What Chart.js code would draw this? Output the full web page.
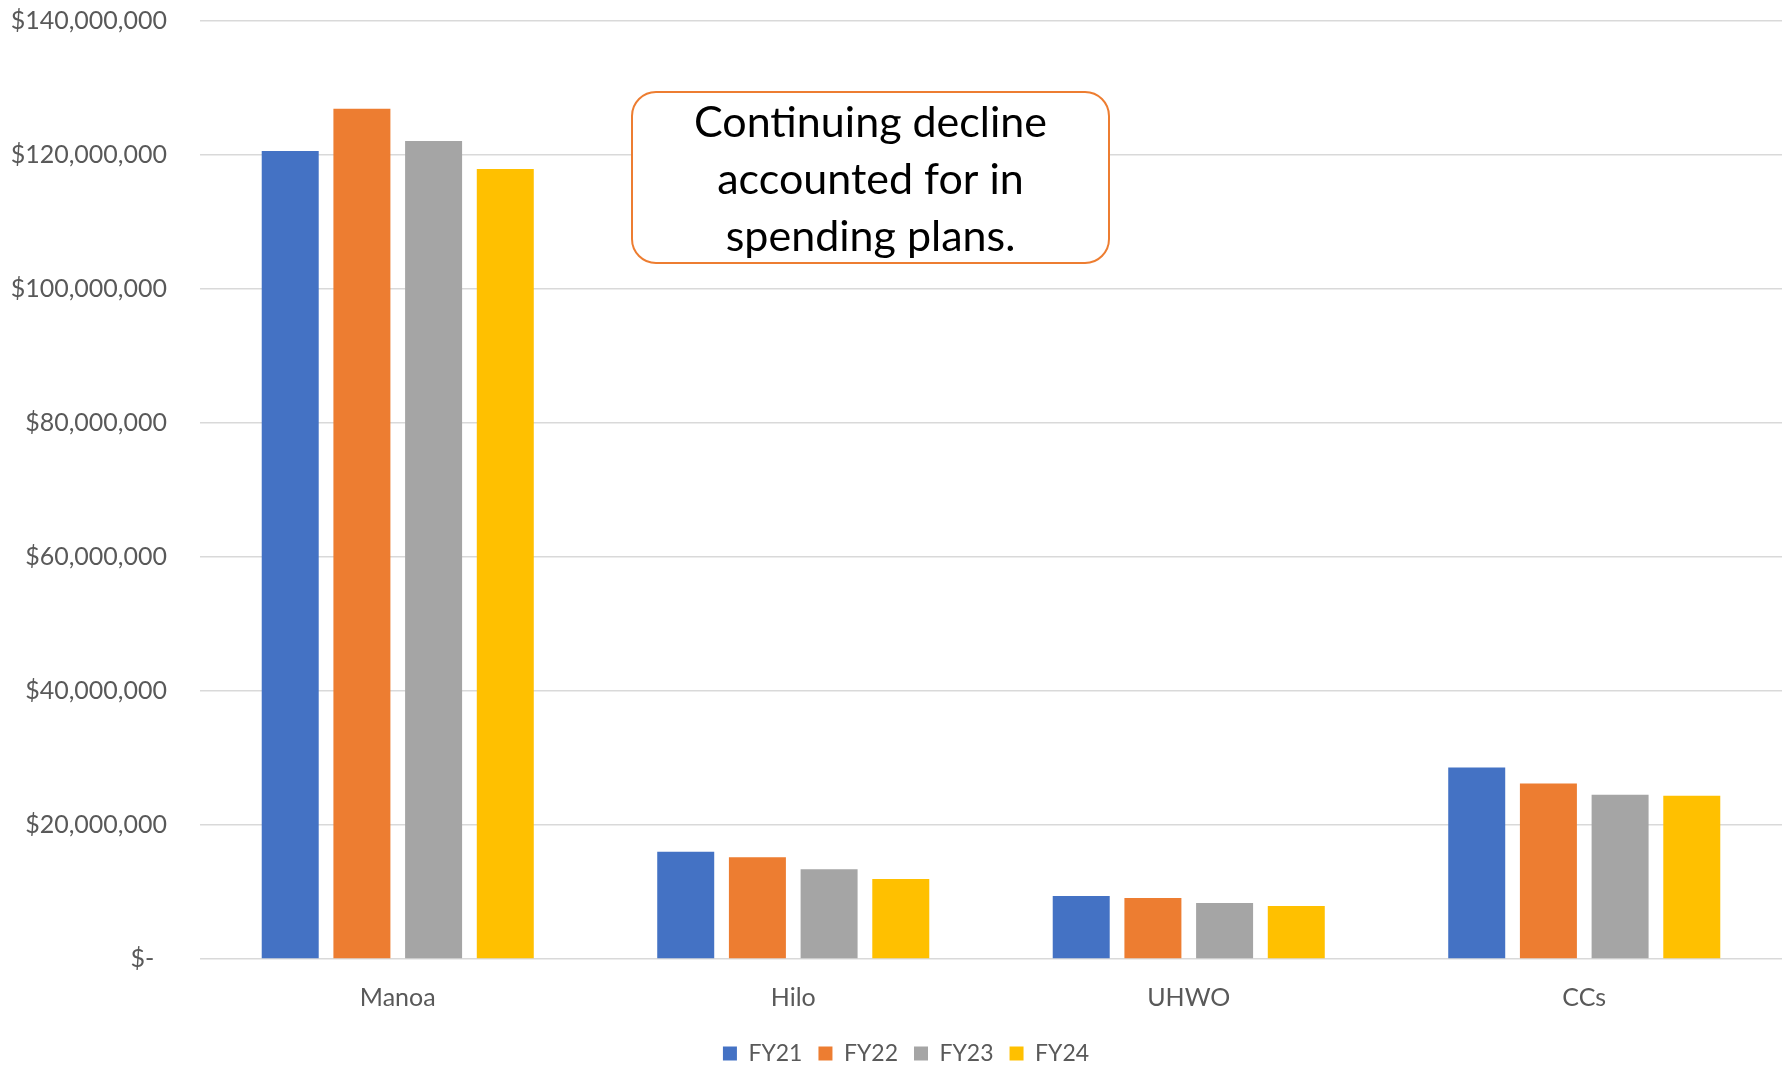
<!DOCTYPE html>
<html>
<head>
<meta charset="utf-8">
<script src="https://cdn.jsdelivr.net/npm/chart.js@4.4.1/dist/chart.umd.min.js"></script>
<style>
  html, body { margin: 0; padding: 0; background: #fff; }
  #wrap { width: 1784px; height: 1066px; }
</style>
</head>
<body>
<div id="wrap"><canvas id="budgetChart" width="1784" height="1066"></canvas></div>
<script>
// Campus categories and yearly values
const campuses = ['Manoa', 'Hilo', 'UHWO', 'CCs'];
const fy21 = [120600000, 16000000, 9400000, 28600000];
const fy22 = [126900000, 15200000, 9100000, 26200000];
const fy23 = [122100000, 13400000, 8350000, 24500000];
const fy24 = [117900000, 11950000, 7900000, 24350000];
const seriesLabels = ['FY21', 'FY22', 'FY23', 'FY24'];
const seriesColors = ['#4472C4', '#ED7D31', '#A5A5A5', '#FFC000'];
const noteLines = ['Continuing decline', 'accounted for in', 'spending plans.'];

const FONT = "Lato, 'Open Sans', sans-serif";
const GREY = '#595959';

// Accounting style: "$120,000,000", zero shown as "$-"
function money(v) {
  if (v === 0) return '$-  ';
  return '$' + v.toLocaleString('en-US');
}

// Rounded orange callout box; also nudges the legend a bit right
const calloutPlugin = {
  id: 'callout',
  afterLayout(chart) {
    chart.legend.left += 15;
    chart.legend.right += 15;
  },
  afterDraw(chart) {
    const { ctx } = chart;
    const x = 632, y = 92, w = 477, h = 171, r = 24;
    ctx.save();
    ctx.beginPath();
    ctx.roundRect(x, y, w, h, r);
    ctx.fillStyle = '#fff';
    ctx.fill();
    ctx.lineWidth = 2;
    ctx.strokeStyle = '#ED7D31';
    ctx.stroke();
    ctx.fillStyle = '#000';
    ctx.font = `43px ${FONT}`;
    ctx.textAlign = 'center';
    ctx.textBaseline = 'middle';
    noteLines.forEach((line, i) => {
      ctx.fillText(line, x + w / 2, 123 + i * 57);
    });
    ctx.restore();
  },
};

const values = [fy21, fy22, fy23, fy24];

new Chart(document.getElementById('budgetChart'), {
  type: 'bar',
  plugins: [calloutPlugin],
  data: {
    labels: campuses,
    datasets: seriesLabels.map((label, i) => ({
      label,
      data: values[i],
      backgroundColor: seriesColors[i],
      borderWidth: 0,
      categoryPercentage: 0.725,
      barPercentage: 0.795,
    })),
  },
  options: {
    responsive: false,
    animation: false,
    layout: { padding: { top: 21, right: 2, bottom: -9, left: 0 } },
    plugins: {
      tooltip: { enabled: false },
      legend: {
        position: 'bottom',
        labels: {
          color: GREY,
          font: { family: FONT, size: 23 },
          boxWidth: 14,
          boxHeight: 14,
          padding: 16,
        },
      },
    },
    scales: {
      x: {
        grid: { display: false, drawTicks: false },
        border: { display: false },
        ticks: { color: GREY, font: { family: FONT, size: 25 }, padding: 24 },
        afterFit(scale) { scale.height = 67; },
      },
      y: {
        min: 0,
        max: 140000000,
        // invisible tick marks make the gap between labels and plot
        grid: { color: '#d9d9d9', lineWidth: 1.5, drawTicks: true, tickLength: 33, tickColor: 'rgba(0,0,0,0)' },
        border: { display: false },
        ticks: {
          stepSize: 20000000,
          color: GREY,
          font: { family: FONT, size: 25 },
          padding: 0,
          callback: v => money(v),
        },
        afterFit(scale) { scale.width = 200; },
      },
    },
  },
});
</script>
</body>
</html>
